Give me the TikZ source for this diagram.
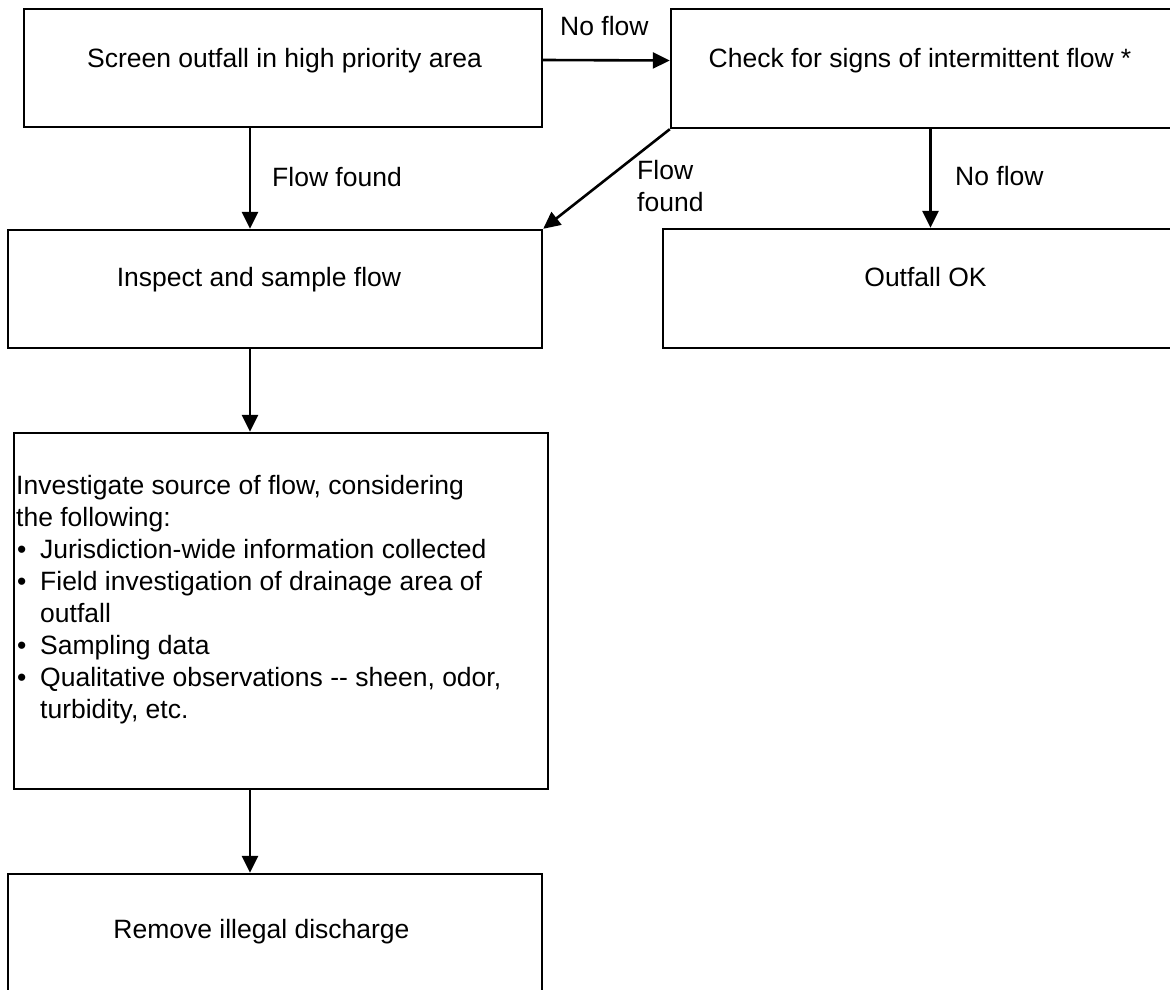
\documentclass[tikz,border=0pt]{standalone}
\usepackage{fontspec}
\setmainfont{Liberation Sans}
\usetikzlibrary{arrows.meta}
\tikzset{
  box/.style={draw=black, line width=2.4pt, rectangle, inner sep=0pt},
  arr/.style={line width=2.6pt, -{Triangle[length=17pt,width=16pt]}},
  txt/.style={inner sep=0pt, font=\fontsize{26.5}{32}\selectfont},
}
\begin{document}
\begin{tikzpicture}[x=1pt,y=-1pt]
\clip (0,0) rectangle (1170,990);
\fill[white] (0,0) rectangle (1170,990);
% boxes
\node[box, minimum width=518pt, minimum height=118pt] (screen) at (283,68) {};
\node[box, minimum width=519pt, minimum height=119pt] (check) at (930.5,68.5) {};
\node[box, minimum width=534pt, minimum height=118pt] (inspect) at (275,289) {};
\node[box, minimum width=534pt, minimum height=119pt] (outfall) at (930,288.5) {};
\node[box, minimum width=534pt, minimum height=356pt] (investigate) at (281,611) {};
\node[box, minimum width=534pt, minimum height=120pt] (remove) at (275,934) {};
% texts
\node[txt, anchor=base] (tscreen) at (284.5,67) {Screen outfall in high priority area};
\node[txt, anchor=base] (tcheck) at (920,67) {Check for signs of intermittent flow *};
\node[txt, anchor=base] (tinspect) at (259,286) {Inspect and sample flow};
\node[txt, anchor=base] (toutfall) at (925.5,286) {Outfall OK};
\node[txt, anchor=base] (tremove) at (261.5,938) {Remove illegal discharge};
\node[txt, anchor=north west, align=left] (tinvest) at (16,475.5) {Investigate source of flow, considering\\
the following:\\
\makebox[24pt][l]{\hspace{1pt}•}Jurisdiction-wide information collected\\
\makebox[24pt][l]{\hspace{1pt}•}Field investigation of drainage area of\\
\hspace*{24pt}outfall\\
\makebox[24pt][l]{\hspace{1pt}•}Sampling data\\
\makebox[24pt][l]{\hspace{1pt}•}Qualitative observations -{}- sheen, odor,\\
\hspace*{24pt}turbidity, etc.};
% connectors
\coordinate (col) at (250,0);
\draw[arr] ([yshift=8pt]screen.east) -- ([yshift=8pt]check.west);
\draw[arr] (screen.south -| col) -- (inspect.north -| col);
\draw[arr] (check.south west) -- (inspect.north east);
\draw[arr] (check.south) -- (outfall.north -| check.south);
\draw[arr] (inspect.south -| col) -- (investigate.north -| col);
\draw[arr] (investigate.south -| col) -- (remove.north -| col);
% labels
\node[txt, anchor=base west] (lnoflow1) at (560,36) {No flow};
\node[txt, anchor=base west] (lfound1) at (272,186) {Flow found};
\node[txt, anchor=north west, align=left] (lfound2) at (637,160) {Flow\\found};
\node[txt, anchor=base west] (lnoflow2) at (955,185) {No flow};
\end{tikzpicture}
\end{document}
